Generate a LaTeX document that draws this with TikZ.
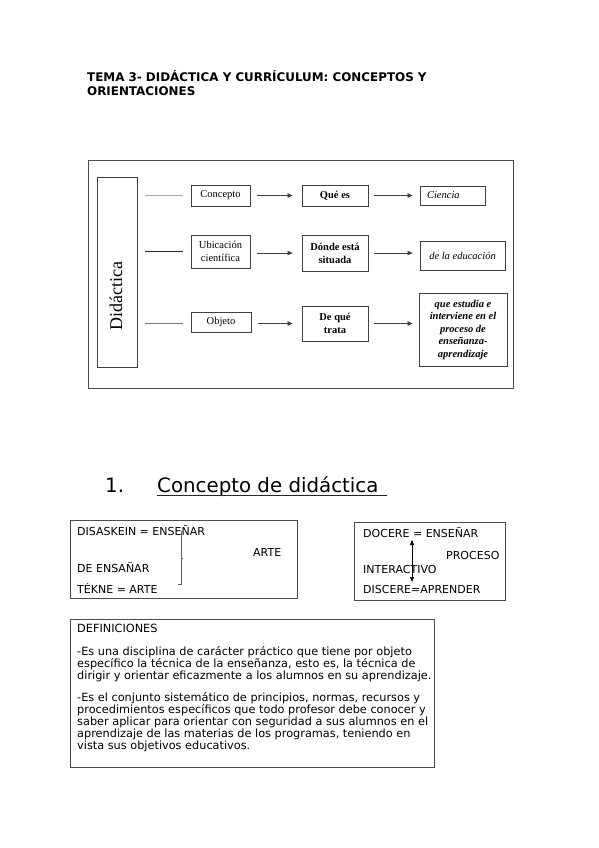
\documentclass[tikz,border=0pt]{standalone}
\usepackage{fontspec}
\setmainfont{DejaVu Sans}
\newfontfamily\tms{Liberation Serif}
\usetikzlibrary{arrows.meta}

\begin{document}
\begin{tikzpicture}[x=1pt,y=-1pt,
		caja/.style={draw=black!75,line width=0.8pt,inner sep=0pt,align=center,font=\tms\fontsize{10.5}{13}\selectfont},
		negrita/.style={caja,font=\tms\bfseries\fontsize{10.5}{13}\selectfont},
		cursiva/.style={caja,font=\tms\itshape\fontsize{10.5}{13}\selectfont},
		flecha/.style={draw=black!75,line width=0.7pt,-{Triangle[length=5pt,width=4.5pt]}},
		texto/.style={anchor=base west,inner sep=0pt,font=\fontsize{11}{13}\selectfont},
		defin/.style={texto,font=\fontsize{11.3}{12}\selectfont},
		marco/.style={draw=black!70,line width=0.9pt,inner sep=0pt}]
		\useasboundingbox (0,0) rectangle (599,848);
		\fill[white] (0,0) rectangle (599,848);
		% titulo
		\node[texto,font=\bfseries\fontsize{11.9}{13}\selectfont] (tema) at (87,82) {TEMA 3- DIDÁCTICA Y CURRÍCULUM: CONCEPTOS Y};
		\node[texto,font=\bfseries\fontsize{11.9}{13}\selectfont] (temab) at (87,96) {ORIENTACIONES};
		% esquema
		\draw[marco] (88,160) rectangle (513,388);
		\node[caja,minimum width=40pt,minimum height=190pt] (didac) at (117,272) {};
		\node[rotate=90,inner sep=0pt,font=\tms\fontsize{18}{20}\selectfont] (didtxt) at (116,296) {Didáctica};
		\node[caja,minimum width=59pt,minimum height=21pt] (concepto) at (220.5,195.5) {Concepto};
		\node[negrita,minimum width=66pt,minimum height=21pt] (quees) at (335,195.5) {Qué es};
		\node[cursiva,minimum width=65pt,minimum height=19pt,text width=51pt,align=left] (ciencia) at (452.5,195.5) {Ciencia};
		\node[caja,minimum width=59pt,minimum height=33pt] (ubicacion) at (220.5,251.5) {Ubicación\\científica};
		\node[negrita,minimum width=66pt,minimum height=36pt] (donde) at (335,253) {Dónde está\\situada};
		\node[cursiva,minimum width=85pt,minimum height=29pt] (educacion) at (462.5,255.5) {de la educación};
		\node[caja,minimum width=60pt,minimum height=20pt] (objeto) at (221,322) {Objeto};
		\node[negrita,minimum width=66pt,minimum height=35pt] (trata) at (335,323.5) {De qué\\trata};
		\node[caja,font=\tms\bfseries\itshape\fontsize{10.5}{12.5}\selectfont,minimum width=88pt,minimum height=73pt] (estudia) at (463,329.5) {que estudia e\\interviene en el\\proceso de\\enseñanza-\\aprendizaje};
		\draw[black!35,line width=0.8pt,shorten <=8pt,shorten >=8pt] (didac.east |- concepto.west) -- (concepto.west);
		\draw[black!85,line width=0.8pt,shorten <=8pt,shorten >=8pt] (didac.east |- ubicacion.west) -- (ubicacion.west);
		\draw[black!55,line width=0.8pt,shorten <=8pt,shorten >=8pt] (didac.east |- trata.west) -- (objeto.west |- trata.west);
		\draw[flecha,shorten <=7pt,shorten >=9pt] (concepto.east) -- (concepto.east -| quees.west);
		\draw[flecha,shorten <=6pt,shorten >=7pt] (quees.east) -- (quees.east -| ciencia.west);
		\draw[flecha,shorten <=7pt,shorten >=9pt] (ubicacion.east |- donde.west) -- (donde.west);
		\draw[flecha,shorten <=6pt,shorten >=7pt] (donde.east) -- (donde.east -| educacion.west);
		\draw[flecha,shorten <=7pt,shorten >=9pt] (objeto.east |- trata.west) -- (trata.west);
		\draw[flecha,shorten <=6pt,shorten >=6pt] (trata.east) -- (trata.east -| estudia.west);
		% 1. concepto
		\node[texto,font=\fontsize{19.8}{22}\selectfont] (num) at (105,492.5) {1.};
		\node[texto,font=\fontsize{19.8}{22}\selectfont] (titulo) at (157,492.5) {Concepto de didáctica};
		\draw[black!85,line width=1.2pt] ([yshift=-3pt]titulo.base west) -- ([xshift=8pt,yshift=-3pt]titulo.base east);
		% caja disaskein
		\node[marco,minimum width=227pt,minimum height=78pt] (cajaarte) at (183.5,559) {};
		\node[texto] (disaskein) at (77,535) {DISASKEIN = ENSEÑAR};
		\node[texto] (arte) at (253,556) {ARTE};
		\node[texto] (ensanar) at (77,572) {DE ENSAÑAR};
		\node[texto] (tekne) at (77,593) {TÉKNE = ARTE};
		\draw[black!60,line width=0.8pt] (178,584) -- (181,584) -- (181,531);
		\draw[black!60,line width=0.8pt] (181,558) -- (183,558);
		% caja docere
		\node[marco,minimum width=151pt,minimum height=78pt] (cajaproceso) at (429.5,561) {};
		\node[texto] (docere) at (363,537) {DOCERE = ENSEÑAR};
		\node[texto] (proceso) at (446,559) {PROCESO};
		\node[texto] (interactivo) at (363,573) {INTERACTIVO};
		\node[texto] (discere) at (363,593) {DISCERE=APRENDER};
		\coordinate (arriba) at (412,540);
		\coordinate (abajo) at (412,582);
		\draw[black,line width=0.7pt,{Triangle[length=5pt,width=4pt]}-{Triangle[length=5pt,width=4pt]}] (arriba) -- (abajo);
		% definiciones
		\node[marco,minimum width=364pt,minimum height=148pt] (cajadef) at (252,693) {};
		\node[defin] (d0) at (77,632) {DEFINICIONES};
		\node[defin] (d1) at (77,655) {-Es una disciplina de carácter práctico que tiene por objeto};
		\node[defin] (d2) at (77,667) {específico la técnica de la enseñanza, esto es, la técnica de};
		\node[defin] (d3) at (77,679) {dirigir y orientar eficazmente a los alumnos en su aprendizaje.};
		\node[defin] (d4) at (77,701.5) {-Es el conjunto sistemático de principios, normas, recursos y};
		\node[defin] (d5) at (77,713.5) {procedimientos específicos que todo profesor debe conocer y};
		\node[defin] (d6) at (77,725.5) {saber aplicar para orientar con seguridad a sus alumnos en el};
		\node[defin] (d7) at (77,737.5) {aprendizaje de las materias de los programas, teniendo en};
		\node[defin] (d8) at (77,749.5) {vista sus objetivos educativos.};
		\end{tikzpicture}
\end{document}
